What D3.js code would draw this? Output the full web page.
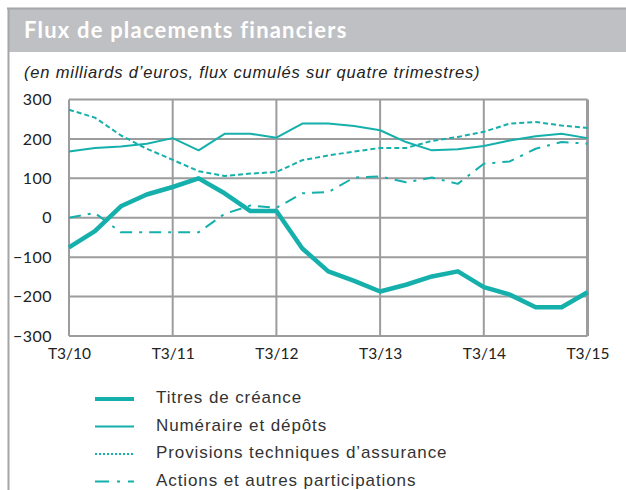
<!DOCTYPE html>
<html>
<head>
<meta charset="utf-8">
<script src="https://cdn.jsdelivr.net/npm/d3@7"></script>
<style>
  body { margin: 0; background: #fff; }
  svg { display: block; }
</style>
</head>
<body>
<div id="chart"></div>
<script>
// quarters from T3/10 to T3/15
const quarters = d3.range(21);
const tickLabels = ["T3/10", "T3/11", "T3/12", "T3/13", "T3/14", "T3/15"];
const yTicks = [300, 200, 100, 0, -100, -200, -300];

const titres = [-75, -34, 29, 59, 78, 100, 62, 17, 17, -78, -136, -160, -187, -170, -149, -136, -176, -195, -227, -227, -189];
const numeraire = [168, 177, 181, 188, 202, 171, 213, 213, 203, 239, 239, 233, 222, 192, 171, 174, 182, 196, 207, 213, 202];
const provisions = [274, 254, 209, 175, 147, 118, 106, 112, 116, 146, 158, 168, 177, 177, 195, 205, 218, 239, 243, 234, 228];
const actions = [0, 12, -37, -37, -37, -37, 10, 31, 25, 62, 65, 102, 105, 90, 102, 86, 137, 143, 175, 192, 188];

const seriesNames = ["Titres de créance", "Numéraire et dépôts", "Provisions techniques d\u2019assurance", "Actions et autres participations"];

const width = 626, height = 490;
const teal = "#15b0ab";
const gridColor = "#9c9c9e";

const svg = d3.select("#chart").append("svg")
  .attr("width", width)
  .attr("height", height);

// frame and title bar
svg.append("rect").attr("x", 8).attr("y", 9).attr("width", width - 8).attr("height", 43).attr("fill", "#bfc0c3");
svg.append("line").attr("x1", 7).attr("x2", width).attr("y1", 8.5).attr("y2", 8.5).attr("stroke", "#a5a6a8").attr("stroke-width", 2);
svg.append("line").attr("x1", 8.5).attr("x2", 8.5).attr("y1", 8).attr("y2", height).attr("stroke", "#a5a6a8").attr("stroke-width", 2);

svg.append("text").attr("x", 24).attr("y", 38)
  .text("Flux de placements financiers")
  .style("font-family", "Lato, sans-serif")
  .style("font-weight", "bold")
  .style("font-size", "22px")
  .style("letter-spacing", "1.2px")
  .attr("fill", "#fff");

svg.append("text").attr("x", 24).attr("y", 78)
  .text("(en milliards d\u2019euros, flux cumulés sur quatre trimestres)")
  .style("font-family", "'Liberation Sans', Arial, sans-serif")
  .style("font-style", "italic")
  .style("font-size", "16.5px")
  .style("letter-spacing", "0.8px")
  .attr("fill", "#222");

const x = d3.scaleLinear().domain([0, 20]).range([69, 587.5]);
const y = d3.scaleLinear().domain([-300, 300]).range([336, 99.5]);

const plot = svg.append("g");

// grid
plot.selectAll(".hgrid").data(yTicks).join("line")
  .attr("x1", x(0)).attr("x2", x(20))
  .attr("y1", d => y(d)).attr("y2", d => y(d))
  .attr("stroke", gridColor).attr("stroke-width", 2);
plot.selectAll(".vgrid").data(d3.range(0, 21, 4)).join("line")
  .attr("x1", d => x(d)).attr("x2", d => x(d))
  .attr("y1", y(300)).attr("y2", y(-300))
  .attr("stroke", gridColor).attr("stroke-width", d => d === 20 ? 3 : 2);

// axes labels
const yAxis = d3.axisLeft(y).tickValues(yTicks).tickSize(0).tickPadding(17);
const gy = svg.append("g").attr("transform", `translate(${x(0)},0)`).call(yAxis);
gy.select(".domain").remove();
gy.selectAll("text")
  .style("font-family", "Lato, sans-serif")
  .style("font-size", "16px")
  .style("letter-spacing", "0.5px")
  .attr("fill", "#222");

const xAxis = d3.axisBottom(x).tickValues(d3.range(0, 21, 4))
  .tickFormat((d, i) => tickLabels[i]).tickSize(0).tickPadding(12);
const gx = svg.append("g").attr("transform", `translate(0,${y(-300)})`).call(xAxis);
gx.select(".domain").remove();
gx.selectAll("text")
  .style("font-family", "Lato, sans-serif")
  .style("font-size", "15.5px")
  .attr("fill", "#222");

const styles = [
  { data: titres, w: 4.5, dash: null },
  { data: numeraire, w: 2, dash: null },
  { data: provisions, w: 2, dash: "5,3" },
  { data: actions, w: 2, dash: "12,7,3,7" }
];

const line = d3.line().x((d, i) => x(quarters[i])).y(d => y(d));

// draw in order so thick line sits on top
[3, 2, 1, 0].forEach(k => {
  const s = styles[k];
  plot.append("path")
    .datum(s.data)
    .attr("d", line)
    .attr("fill", "none")
    .attr("stroke", teal)
    .attr("stroke-width", s.w)
    .attr("stroke-linejoin", "round")
    .attr("stroke-dasharray", s.dash);
});

// legend
const legendDash = [null, null, "2,2", "14,8,3,8"];
const legend = svg.append("g");
seriesNames.forEach((name, i) => {
  const ly = 399 + i * 27.5;
  legend.append("line")
    .attr("x1", 95).attr("x2", 134).attr("y1", ly).attr("y2", ly)
    .attr("stroke", teal)
    .attr("stroke-width", i === 0 ? 4 : 2)
    .attr("stroke-dasharray", legendDash[i]);
  legend.append("text")
    .attr("x", 156).attr("y", ly)
    .attr("dominant-baseline", "middle")
    .text(name)
    .style("font-family", "'Liberation Sans', Arial, sans-serif")
    .style("font-size", "17px")
    .style("letter-spacing", "0.9px")
    .attr("fill", "#333");
});
</script>
</body>
</html>
